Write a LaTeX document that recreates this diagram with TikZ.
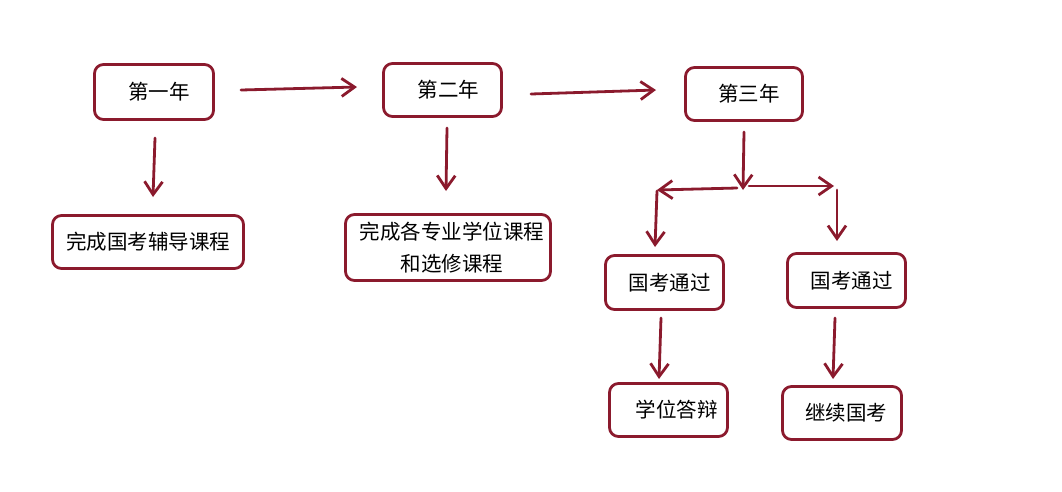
\documentclass[tikz,border=0pt]{standalone}
\usepackage{fontspec}
\newfontfamily\cjk{Noto Sans CJK SC}
\usetikzlibrary{arrows.meta}
\definecolor{dred}{RGB}{139,26,45}
\begin{document}
\begin{tikzpicture}[x=1pt,y=-1pt,
 box/.style={draw=dred,line width=2.8pt,rounded corners=9pt,inner sep=0pt,
   font=\cjk\fontsize{20.5}{32}\selectfont,align=center,text=black},
 arr/.style={draw=dred,line width=2.8pt,line cap=round,
   -{Straight Barb[length=13pt,width=18pt]}},
 seg/.style={draw=dred,line width=2.8pt,line cap=round}]
\useasboundingbox (0,0) rectangle (1062,491);
% boxes
\node[box,minimum width=119pt,minimum height=55pt] (y1) at (154,92) {\hspace*{10pt}第一年};
\node[box,minimum width=118pt,minimum height=53pt] (y2) at (442.5,90) {\hspace*{12pt}第二年};
\node[box,minimum width=117pt,minimum height=53pt] (y3) at (744,94) {\hspace*{10pt}第三年};
\node[box,minimum width=191pt,minimum height=53pt] (b4) at (148,242) {完成国考辅导课程};
\node[box,minimum width=205pt,minimum height=66pt] (b5) at (448,247.5) {\hspace*{8pt}完成各专业学位课程\\\hspace*{8pt}和选修课程};
\node[box,minimum width=118pt,minimum height=54pt] (b6) at (664.5,282.5) {\hspace*{10pt}国考通过};
\node[box,minimum width=118pt,minimum height=54pt] (b7) at (846.5,280.5) {\hspace*{10pt}国考通过};
\node[box,minimum width=118pt,minimum height=53pt] (b8) at (668.5,410) {\hspace*{16pt}学位答辩};
\node[box,minimum width=119pt,minimum height=53pt] (b9) at (842,413) {\hspace*{8pt}继续国考};
% arrow end points
\coordinate (a1s) at (241,90);  \coordinate (a1e) at (357,87);
\coordinate (a2s) at (155,138); \coordinate (a2e) at (153,197);
\coordinate (a3s) at (531,94);  \coordinate (a3e) at (656,90);
\coordinate (a4s) at (447,128); \coordinate (a4e) at (446,191);
\coordinate (a5s) at (744,132); \coordinate (a5e) at (743,190);
\coordinate (hls) at (737,188); \coordinate (hle) at (657,190);
\coordinate (hrs) at (749,186); \coordinate (hre) at (834,186);
\coordinate (vls) at (657,191); \coordinate (vle) at (655,247);
\coordinate (vrs) at (837,190); \coordinate (vre) at (837,241);
\coordinate (d6s) at (661,318); \coordinate (d6e) at (659,379);
\coordinate (d7s) at (835,318); \coordinate (d7e) at (833,379);
% connectors
\draw[arr] (a1s) -- (a1e);
\draw[arr] (a2s) -- (a2e);
\draw[arr] (a3s) -- (a3e);
\draw[arr] (a4s) -- (a4e);
\draw[arr] (a5s) -- (a5e);
\draw[arr] (hls) -- (hle);
\draw[arr] (hrs) -- (hre);
\draw[arr] (vls) -- (vle);
\draw[arr] (vrs) -- (vre);
\draw[arr] (d6s) -- (d6e);
\draw[arr] (d7s) -- (d7e);
\end{tikzpicture}
\end{document}
